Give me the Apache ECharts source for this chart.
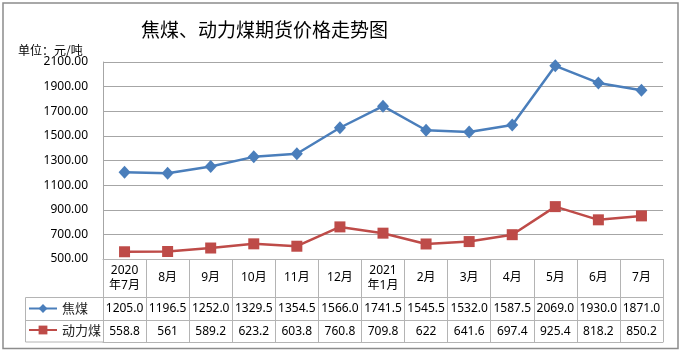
<!DOCTYPE html>
<html>
<head>
<meta charset="utf-8">
<title>焦煤、动力煤期货价格走势图</title>
<script src="https://cdn.jsdelivr.net/npm/echarts@6/dist/echarts.min.js"></script>
<style>
  html, body { margin: 0; padding: 0; background: #fff; }
  #chart { width: 687px; height: 353px; }
</style>
</head>
<body>
<div id="chart"></div>
<script>
  // 月份（表头）
  var months = ['2020\n年7月', '8月', '9月', '10月', '11月', '12月', '2021\n年1月', '2月', '3月', '4月', '5月', '6月', '7月'];
  // 焦煤
  var cokingCoal = [1205.0, 1196.5, 1252.0, 1329.5, 1354.5, 1566.0, 1741.5, 1545.5, 1532.0, 1587.5, 2069.0, 1930.0, 1871.0];
  // 动力煤
  var thermalCoal = [558.8, 561, 589.2, 623.2, 603.8, 760.8, 709.8, 622, 641.6, 697.4, 925.4, 818.2, 850.2];
  // 动力煤表格里的显示文本（原表保留原始位数）
  var thermalText = ['558.8', '561', '589.2', '623.2', '603.8', '760.8', '709.8', '622', '641.6', '697.4', '925.4', '818.2', '850.2'];
  var seriesNames = ['焦煤', '动力煤'];
  var yTicks = { min: 500, max: 2100, step: 200 };

  var FONT = '"Noto Sans", "Noto Sans CJK SC", sans-serif';
  var CJK = '"Noto Sans CJK SC", sans-serif';
  var lineGrey = '#b4b4b4';
  var gridLeft = 103, gridRight = 24, gridTop = 62, gridBottom = 94;
  var row0 = 38.5, row1 = 61.5, row2 = 83; // 表格各行距绘图区底边的偏移
  var plotBottom = 353 - gridBottom;
  var tableLeft = 25.5;

  var chart = echarts.init(document.getElementById('chart'));

  function hLine(y) {
    return { type: 'line', shape: { x1: tableLeft, y1: y, x2: gridLeft, y2: y },
      style: { stroke: lineGrey, lineWidth: 1 }, silent: true };
  }

  var option = {
    animation: false,
    textStyle: { fontFamily: FONT },
    title: [{
      text: '焦煤、动力煤期货价格走势图',
      left: 136, top: 15,
      textStyle: { fontSize: 19, fontWeight: 'normal', color: '#000', fontFamily: CJK }
    }, {
      text: '单位：元/吨',
      left: 13, top: 39,
      textStyle: { fontSize: 12, fontWeight: 'normal', color: '#000', fontFamily: CJK }
    }],
    legend: {
      data: seriesNames,
      orient: 'vertical',
      padding: 0,
      left: 28, top: 302,
      itemWidth: 28, itemHeight: 11, itemGap: 8.5,
      textStyle: { fontSize: 13, color: '#222', fontFamily: CJK }
    },
    grid: { left: gridLeft, right: gridRight, top: gridTop, bottom: gridBottom, containLabel: false },
    xAxis: [{
      type: 'category',
      data: months,
      boundaryGap: true,
      axisLine: { show: true, lineStyle: { color: lineGrey } },
      axisTick: { show: true, length: row2, lineStyle: { color: lineGrey } },
      axisLabel: {
        interval: 0, margin: 3.5, color: '#000', fontSize: 12,
        formatter: function (v) {
          var parts = v.split('\n');
          if (parts.length > 1) return '{a|' + parts[0] + '}\n{a|' + parts[1] + '}';
          return '{b|' + v + '}';
        },
        rich: {
          a: { fontSize: 12, lineHeight: 15.5, color: '#000', fontFamily: FONT },
          b: { fontSize: 12, lineHeight: 31, color: '#000', fontFamily: FONT }
        }
      }
    }, {
      type: 'category', data: months, position: 'bottom', offset: row0,
      axisLine: { show: true, lineStyle: { color: lineGrey } },
      axisTick: { show: false },
      axisLabel: {
        interval: 0, margin: 0, color: '#000', fontSize: 12, lineHeight: 23,
        formatter: function (v, i) { return cokingCoal[i].toFixed(1); }
      }
    }, {
      type: 'category', data: months, position: 'bottom', offset: row1,
      axisLine: { show: true, lineStyle: { color: lineGrey } },
      axisTick: { show: false },
      axisLabel: {
        interval: 0, margin: 0, color: '#000', fontSize: 12, lineHeight: 21.5,
        formatter: function (v, i) { return thermalText[i]; }
      }
    }, {
      type: 'category', data: months, position: 'bottom', offset: row2,
      axisLine: { show: true, lineStyle: { color: lineGrey } },
      axisTick: { show: false },
      axisLabel: { show: false }
    }],
    yAxis: {
      type: 'value',
      min: yTicks.min, max: yTicks.max, interval: yTicks.step,
      axisLine: { show: true, lineStyle: { color: '#a6a6a6' } },
      axisTick: { show: false },
      axisLabel: {
        margin: 15, color: '#000', fontSize: 12,
        formatter: function (v) { return v.toFixed(2); }
      },
      splitLine: { show: true, lineStyle: { color: '#a6a6a6' } }
    },
    series: [{
      name: seriesNames[0],
      type: 'line',
      data: cokingCoal,
      symbol: 'diamond',
      symbolSize: [12, 13],
      itemStyle: { color: '#4A7EBB' },
      lineStyle: { width: 2.5, color: '#4A7EBB' }
    }, {
      name: seriesNames[1],
      type: 'line',
      data: thermalCoal,
      symbol: 'rect',
      symbolSize: 11,
      itemStyle: { color: '#BE4B48' },
      lineStyle: { width: 2.5, color: '#BE4B48' }
    }],
    graphic: [
      { type: 'rect', shape: { x: 3, y: 3, width: 675, height: 345.5 },
        style: { fill: 'none', stroke: '#8c8c8c', lineWidth: 1.5 }, silent: true },
      hLine(plotBottom + row0),
      hLine(plotBottom + row1),
      hLine(plotBottom + row2),
      { type: 'line', shape: { x1: tableLeft, y1: plotBottom + row0, x2: tableLeft, y2: plotBottom + row2 },
        style: { stroke: lineGrey, lineWidth: 1 }, silent: true }
    ]
  };

  chart.setOption(option);
</script>
</body>
</html>
